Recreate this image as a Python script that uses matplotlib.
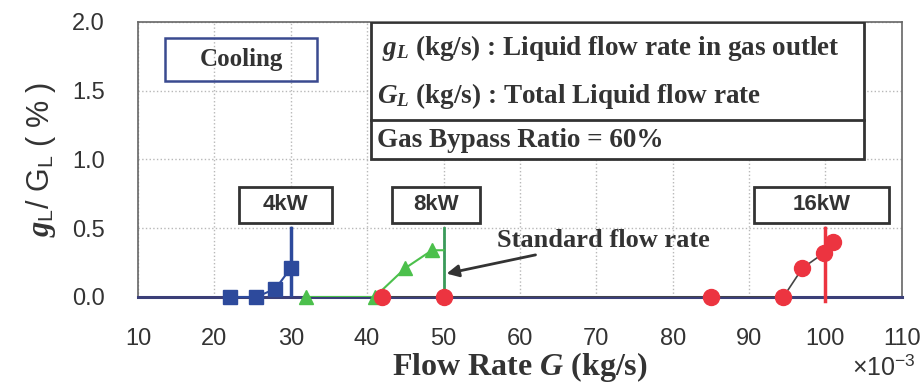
import matplotlib
matplotlib.use("Agg")
import matplotlib.pyplot as plt
from matplotlib.patches import Rectangle

# flow rate in 1e-3 kg/s, ratio in %
g4_x = [22, 25.5, 28, 30]
g4_y = [0.0, 0.0, 0.06, 0.21]
g8_x = [32, 41, 45, 48.5]
g8_y = [0.0, 0.0, 0.21, 0.34]
g16_x = [42, 50, 85, 94.5, 97, 99.8, 101]
g16_y = [0.0, 0.0, 0.0, 0.0, 0.21, 0.32, 0.40]
std_flow = [30, 50, 100]
power_labels = ["4kW", "8kW", "16kW"]
x_ticks = [10, 20, 30, 40, 50, 60, 70, 80, 90, 100, 110]
y_ticks = [0.0, 0.5, 1.0, 1.5, 2.0]

plt.rcParams["mathtext.fontset"] = "custom"
plt.rcParams["mathtext.rm"] = "Liberation Serif:bold"
plt.rcParams["mathtext.it"] = "Liberation Serif:italic:bold"
plt.rcParams["mathtext.sf"] = "Liberation Sans"

fig = plt.figure(figsize=(9.23, 3.85), dpi=100)
ax = fig.add_axes([0.1495, 0.2286, 0.8275, 0.7144])
ax.set_xlim(10, 110)
ax.set_ylim(0, 2.0)

blue = "#2d4a9c"
green = "#4cc04c"
red = "#ec3440"
txt = "#333333"

ax.grid(True, color="#b8b8b8", linestyle=":", linewidth=1)
ax.set_axisbelow(True)

# standard flow rate markers
ax.plot([std_flow[0]] * 2, [0, 0.5], color=blue, lw=2.5, zorder=3)
ax.plot([std_flow[1]] * 2, [0, 0.5], color="#3a9a5a", lw=2, zorder=3)
ax.plot([std_flow[2]] * 2, [-0.03, 0.5], color=red, lw=2.5, zorder=3, clip_on=False)

ax.plot(g4_x, g4_y, color=blue, lw=1.5, marker="s", ms=10, mfc=blue, mec=blue,
        zorder=5, clip_on=False)
ax.plot(g8_x + [std_flow[1]], g8_y + [g8_y[-1]], color=green, lw=1.5, zorder=4)
ax.plot(g8_x, g8_y, color=green, lw=0, marker="^", ms=10, zorder=5, clip_on=False)
ax.plot(g16_x, g16_y, color="#444444", lw=1.2, zorder=4)
ax.plot(g16_x, g16_y, color=red, lw=0, marker="o", ms=11.5, zorder=5, clip_on=False)

ax.set_xticks(x_ticks)
ax.set_yticks(y_ticks)
ax.set_yticklabels([f"{v:.1f}" for v in y_ticks])
ax.tick_params(length=0, labelsize=17, labelcolor=txt)
ax.tick_params(axis="x", pad=22)
ax.tick_params(axis="y", pad=24)
for lab in ax.get_xticklabels() + ax.get_yticklabels():
    lab.set_family("Liberation Sans")

for side in ["left", "top", "right"]:
    ax.spines[side].set_color("#666666")
    ax.spines[side].set_linewidth(1.2)
ax.spines["bottom"].set_color("#3b3f78")
ax.spines["bottom"].set_linewidth(2.2)

ax.set_xlabel(r"Flow Rate $G$ (kg/s)", fontsize=23, family="Liberation Serif",
              fontweight="bold", color=txt, labelpad=0)
ax.set_ylabel(r"$g_\mathsf{L}$/ G$_\mathsf{L}$ ( % )", fontsize=22, family="Liberation Sans",
              color=txt, labelpad=10)
fig.text(0.992, 0.012, r"×10$^{\mathsf{-3}}$", ha="right", va="bottom", fontsize=18,
         family="Liberation Sans", color=txt)

# Cooling box
ax.add_patch(Rectangle((13.5, 1.57), 19.9, 0.31, fill=False, ec="#3a4a90", lw=1.8, zorder=6))
ax.text(23.5, 1.725, "Cooling", ha="center", va="center", fontsize=18,
        family="Liberation Serif", fontweight="bold", color=txt, zorder=7)

# description box
ax.add_patch(Rectangle((40.5, 1.0), 64.5, 1.0, fc="white", ec=txt, lw=2, zorder=6))
ax.plot([40.5, 105], [1.29, 1.29], color=txt, lw=2, zorder=7)
ax.text(42.0, 1.81, r"$g_L$ (kg/s) : Liquid flow rate in gas outlet", va="center",
        fontsize=19.5, family="Liberation Serif", fontweight="bold", color=txt, zorder=7)
ax.text(41.3, 1.46, r"$G_L$ (kg/s) : Total Liquid flow rate", va="center",
        fontsize=19.5, family="Liberation Serif", fontweight="bold", color=txt, zorder=7)
ax.text(41.3, 1.14, "Gas Bypass Ratio = 60%", va="center",
        fontsize=19.5, family="Liberation Serif", fontweight="bold", color=txt, zorder=7)

# power labels
box_w = [12.2, 11.5, 17.6]
box_cx = [29.3, 49.0, 99.5]
for cx, w, lab in zip(box_cx, box_w, power_labels):
    ax.add_patch(Rectangle((cx - w / 2, 0.54), w, 0.26, fc="white", ec=txt,
                           lw=2, zorder=6))
    ax.text(cx, 0.67, lab, ha="center", va="center", fontsize=16, family="Liberation Sans",
            fontweight="bold", color=txt, zorder=7)

ax.annotate("Standard flow rate", xy=(50.4, 0.17), xytext=(57.0, 0.41),
            fontsize=19, family="Liberation Serif", fontweight="bold", color=txt,
            va="center", ha="left",
            arrowprops=dict(arrowstyle="-|>", color=txt, lw=2, mutation_scale=18,
                            shrinkA=0, shrinkB=0), zorder=7)

fig.savefig("out.png", dpi=100)
